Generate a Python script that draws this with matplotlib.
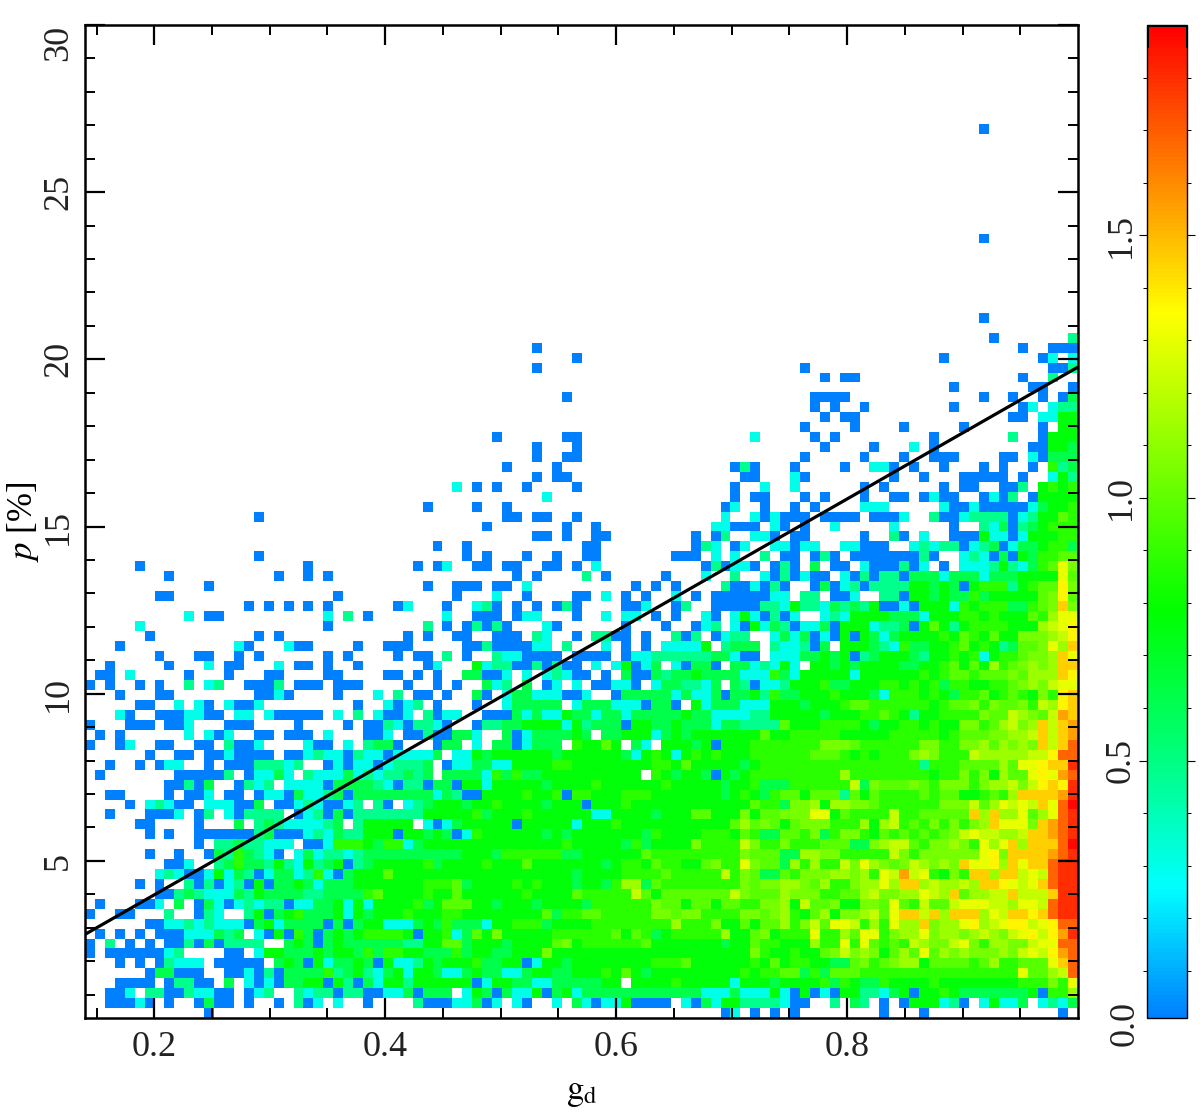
#!/usr/bin/env python3
"""2D histogram of p [%] against g_d with a fitted upper-envelope line."""
import numpy as np
import matplotlib
matplotlib.use("Agg")
import matplotlib.pyplot as plt
from matplotlib.colors import LinearSegmentedColormap

plt.rcParams["font.family"] = ["Liberation Serif", "DejaVu Serif"]
plt.rcParams["mathtext.fontset"] = "stix"

N_BINS = 100
XLIM = (0.14, 1.0)
YLIM = (0.3, 30.0)
VLIM = (0.01, 1.9)
XTICKS = [0.2, 0.4, 0.6, 0.8]
YTICKS = [5, 10, 15, 20, 25, 30]
CTICKS = [0.5, 1.0, 1.5]

LINE_X = [0.14, 1.0]
LINE_Y = [2.8, 19.77]

# log10(count) for each cell code
LEVELS = dict(zip("0123456789abcdefg",
                  [0, .3, .48, .62, .77, .88, .98, 1.05, 1.13, 1.22, 1.3, 1.37, 1.45, 1.55, 1.68, 1.8, 1.88]))

# row (from top) -> cells. "12" or "3-5" = lowest level, "3-5=4" = span at a level,
# "7:1.2" = consecutive cells from column 7, "." leaves a cell alone
SPARSE_ROWS = {
    10: "90", 21: "90", 29: "90", 31: "91 99=2", 32: "45 94 97-99", 33: "49 86 96 97=1 99=1",
    34: "45 72 97-98 99=2", 35: "74 76-77 94 97=2", 36: "87 95-96 99", 37: "48 73-76 90 93 96 98 99=3",
    38: "73 75 78 87 94 95=1 97=1 98-99=2", 39: "74 76-77 93-94 96-97=1 98-99=4",
    40: "72 77 82 88 96 98-99=4", 41: "41 48-49 67=1 73 75 85 93=2 96 97-99=4",
    42: "45 49 74 79 83=1 85 95-96 97:443", 43: "45 48-49 72 78 82 85-87 92-93 95=1 96 97-99=3",
    44: "42 47 65 66=2 67 71 76 79-80=1 81 83 86 90 92 95 97:523",
    45: "45 47-48 66-67 71=1 72 81 84 88-92 94 97=1 98:42",
    46: "37=1 39 41 44 49 65 68=1 71=1 78 80 86 88-89 92-93 94=2 96:4545",
    47: "46=1 65 67-68 72 74 78 81-82 84 85=1 86-87 90 91=1 92 93=2 95 96-99=4",
    48: "34 39 42 64 65=1 68 71 73 78-80=1 86=1 87-88 89=1 90-94 95=1 96:3445",
    49: "17 42-43 45-46 49 64=1 67=1 68 69=1 70-72 74-77 79-81 82=1 85=2 86-87 88=1 89-92=2 93 94=1 95:24465",
    50: "40 48 51 63-64=1 65-67 69=1 70 72 75=1 81=1 87 90=2 91=1 92=3 93 94=2 95=3 96:4555",
    51: "45-46 48 51-52 61 63 64=2 67-68=1 69 71-72 78 81=2 82 84=1 87-89 90=4 91-92=1 93 94=1 95-97=4 98-99=5",
    52: "35 38 50-51 61 62=2 63=1 65 66=1 69-70=1 71 72-73=1 76-77=1 78-80 83=1 84=2 85=1 86-87=2 88 89=1 90=2 91=3 92 93=1 94-95=3 96=4 97-98=5 99=3",
    53: "17 38 40 44 47 50-51 59-61 63=1 65=1 68=2 70-71 73 74=2 75 77-83 84=2 85 88=1 89=2 90=1 91 92=3 93 94=4 95=3 96:5566",
    54: "5 22 33 35 36=1 39-40 42-43 46-47 49 51=1 62 63=2 64 65-66=1 67 69 70=2 71 73=3 75-76 78=1 79-81 82=2 83 84=1 86 88-90=1 91=2 92=4 93=2 94=1 95=3 96:56a7",
    55: "8 19 22 24 43 45 50=2 52 58 62=1 65=2",
    56: "12 34 37-39 41-42 44=1 55 57 59 64=2 65",
    57: "7-8 25 37 41=1 44 49-50 52=1 54 56 59=1 61 63-65",
    58: "16 18 20 22 24 31 32=1 36 39=1 40=2 41 43 45 47 48=2 49 54-55 56=1 59 60=2 63-65",
    59: "10=1 12-13 24=1 26=2 28 36=1 39-41 43 44-45=1 49 52=1 54-55=1 57 59 62=1 63 65=1",
    60: "5=1 24 34=2 36 38 39=2 40 41=2 42 46=1 47 54 58 61 62=1 63=2 65=1",
    61: "6 17 19 32 34 37-38 41-43 45=2 46=1 49 51-52=2 53-54 56 59=2 60 61=2 63 64-65=1",
    62: "3 15=1 16 20=1 21-22 27 30-32 38-39 40=2 41-44 45-46=1 48=2 52=1 54 56 58-61=1 62=4 64=2 65=3",
    63: "7 11-12 15 17 24 26 31 33-34 36=2 38 41=2 42-43=1 44-47 49-52 54 55-56=1 57-61=2 62=2 63-64=3 65=1",
    64: "2 8 12=1 14-15 19=1 21-22 24 27 34 35=1 39=4 40=1 41-42=2 43-44 45=2 46 47=2 48-49 51=1 53=1 54=4 55 56=1 57=3 59=1 60 61-62=3 63 65=3",
    65: "1-2 4=1 10 14 18-19 24-25 30-31 33 35 38-39=3 40-41 42=1 44=1 46=1 47=2 48=1 49-50 52 54=3 55-56 57-65=3 58=2 61=4",
}

# rows 66 and below, columns 0-33
LEFT_ROWS = {
    66: "0 2 5 7 10=2 12=1 13=2 16-18 19=2 21-23 25-27 32",
    67: "3 7-8 17-18 19=1 20 25 29=1 31=2",
    68: "5-6 9=1 11=1 12 14=1 15-16 17=1 27 30=1 31 32=1",
    69: "3=1 4 7-9 10-11=1 12-13 15-16=1 18=1 19-23 25=1 27=2 29=1 30-31 32=1",
    70: "0 4-6 8-9 10=1 14-16 21 26 28-29 30=2 31=1 32",
    71: "1 3 10=1 12=1 13 14=1 17-18 20-22 24=1 28-29 30=1 32",
    72: "0 3 4=1 7-8 11-12 14=2 15-16 17=1 22=1 23-24 26=1 28=2 29-30=3 31",
    73: "6 9-10 12-13 14=1 15-18 20-21 22=1 23=2 24-25=1 26 27=2 28-29=1 30 31-33=1",
    74: "2 5 7 8-9=1 12 14-16 17-19=2 20=1 21=2 24 25=1 26 27=1 28=1 29 30=1 31-33=2",
    75: "1 9-13 14=2 16 17-18=1 19=3 20=1 22=2 23-25=1 26=3 27=1 28=2 29=1 30-31=2 32=3 33=2",
    76: "8-9 10=2 11 12=3 15 16=2 17=1 18=2 20-23=1 24 25-28=3 29=2 30=1 31 32-33=2",
    77: "2-3 8 10-11 12=1 14-15 17 18-19=1 20 21=3 22-23=1 24=2 25=3 26 27-33=3",
    78: "4 6=1 7=2 8=1 9-10 12-14=1 15-16 17=3 19-20 21=1 22=2 23=1 24-25 26=1 27=2 29=2 30 32=1 33=2",
    79: "2 6-8 9=1 11 12=2 14=1 15 16-19=2 21 22=1 23=2 24 25=3 26 27-33=2",
    80: "5-6 11 15=3 17=2 18=3 19=2 20-23=1 24=2 25=3 27=2 28-32=4",
    81: "6 8 11-13 14-16 17=2 18=3 19-21 22=1 23=2 24=1 25=3 26-27=2 28-30=4 31 32-33=4",
    82: "11 13-14=2 15=3 16-17=2 18-20=1 22-23 24=1 25-27=5 28=4 29=3 30-31=5 32=1 33=3",
    83: "6 9 12 13:3253210.131 24-25=2 26=1 27=2 28-33=3",
    84: "8-9 10=1 13:2353324214234 26 27:2344443 33=4",
    85: "7=1 8=2 9=1 10-11 12=1 13=4 14=1 15:32 17 18=1 19-20=3 21=1 22=2 23=5 24=1 25 26=3 27-29=4 30=6 31-33=4",
    86: "5 7 10=2 11 12=2 13 14=1 15=2 16 17=4 18 19-20=3 21=4 22=3 23=1 24-26=3 27-33=4",
    87: "7-8 9=2 10=3 11=2 12-14=1 15=3 16=2 17=4 18-21=3 22-23=2 24-27=3 28=5 29=6 30-33=4",
    88: "1 5-6 7=1 9=3 11 12=3 13=1 14 15=1 16=2 17=1 18-19=2 20 21-22=1 23-24=3 25=4 26=1 27=4 28=1 29-32=4 33=5",
    89: "0 3-4 8=2 11 12=2 13=1 16=2 17=4 18 19=3 20=4 21=5 22-24=3 25=4 26=1 27=4 28=3 29-31=4 32=5 33=4",
    90: "6-7 8-9=1 10=2 11=1 12=2 13-15=1 16 17=3 18=4 19=1 20-23=3 24 25=3 26 27=3 28-29=4 30-32=1 33=3",
    91: "1 3 5 7-9 10-12=1 13=3 14=2 15=3 17=1 18 19=4 20 21=5 22=3 23 24=3 25=4 26=3 27=4 28-31=5 32=4 33",
    92: "0 2=2 4 6 8-9 10=2 11 12=3 13 14-17=2 20=3 21=4 22=3 23 24=3 25=4 26-31=3 32-33=2",
    93: "0 2-7 8=1 9=2 14-15 17=1 18-19=4 20-22=3 23=4 24=3 25-26=4 27=3 28=5 29=3 30-31=5 32-33=4",
    94: "3 5 7 8=2 9-11=1 13-17 19=3 20=4 21=3 22 23=4 24=1 25-26=3 27=4 28=3 29 30=4 31-32=1 33=2",
    95: "6 7-8=3 9-11 14-15 16=1 17 18=2 19 20-23=3 24=5 25=2 26=3 27=4 28=2 29=1 30=3 31=4 32=1 33=4",
    96: "3-6 8 9-10=2 11-12 14=3 16=1 17 18=1 19 20-21=3 22-23=4 24 25=4 26=2 27 28=3 29=1 30-31=4 32=2 33=4",
    97: "2-3 4=1 6-7=2 8-9 10=2 11-12=1 13-14 16 17=1 18=2 21=2 22=1 23-24=2 25 26-27=2 28-29 30-31=1 32=3 33",
    98: "2-4 5=1 6 8 11 12=3 13-14 16 19 21=2 22 23=1 25=1 28 33=2",
    99: "12 64 65=1 67 69 71 80 84 98",
}

# rows 66 and below, columns 33-66
CENTER_ROWS = {
    66: "35 37 40=3 41=1 42=2 44=3 46 47=1 49=1 51-52 53-54=1 55 57=1 58-59=3 60-61=2 62=1 63=3 65=3",
    67: "33-34 36 39=3 40 42=1 43-44=3 45-47=1 48-49 50=1 53 54-58=3 59=1 60=3 61-62=1 63=3 64 65=3",
    68: "33=2 35 39 42=1 43-47=3 49=1 50-52=3 53-55=1 56 57-58=3 59 61=4 62=1 63-65=3",
    69: "34=2 35 36-37=1 40-42 43=3 44=1 45=3 46-47=1 48=4 49-50=3 51=1 52-53=3 54=1 55-59=3 60=4 61-62=3 63-65=1",
    70: "33-34=2 35=1 36 39 40-41=2 42-43=3 44-47=4 48=1 49=4 50=2 51-53=3 54 55-56=4 57-58=3 59=4 60-62=3 63=1 64-65=3",
    71: "33 34=2 35-36 37-38=3 39=1 42=3 43 44=1 45-47=3 48=3 49=4 50=3 52-53=3 54-56=4 57=1 58=3 59=4 60=3 61-65=4",
    72: "35 36-37=3 39=1 41-42=3 43 44=1 45-47=3 49=5 50-51=4 52=6 53=4 55=3 56=1 58-60=4 61=3 62=4 63 64-65=4",
    73: "33-34=1 35=3 37-38=1 39=4 40=3 41-46=4 47=3 48-53=4 54=3 55=1 56=4 57=5 58=4 59=1 60=4 61=5 62=4 63=5 64-65=4",
    74: "33-34=3 36 37-38=1 39-40=3 41-42=1 43-46=4 47-48=5 49-56=4 57-58=5 59=4 60=6 61-65=4",
    75: "33=1 34=3 36=3 37-38=3 39=3 40=1 41=5 42=3 43=5 44-45=3 46-54=4 55=4 57=5 58=4 59=3 60-61=4 62=3 63 64=4 65=3",
    76: "33=3 34 35-36=3 37 38-39=4 40=1 41-45=4 46=3 47-50=4 51=5 52-57=4 58=5 59-65=4 64=3",
    77: "33-34=3 35=1 36=3 37=2 38-39 40-43=4 44=5 45-46=4 47=5 48 49-50=5 51-53=4 54-56=5 57-63=4 64=3 65=4",
    78: "34=3 35-37=4 38=3 39-40=4 41=5 42-45=4 46=3 47-49=4 50 51-53=4 54=5 55-65=4",
    79: "33=1 34-38=4 39=5 40=3 41-43=4 44=5 45-50=4 51-52=1 53-56=4 57=3 58-60=4 61-62=6 63-65=4",
    80: "34=1 35 36=1 37=3 38-42=4 43 44-48=4 49=1 50-52=4 53=5 54-64=4 65=6",
    81: "33-34=3 35=4 36=3 37 38=1 39=5 40-45=4 46=3 47=4 48=3 49-55=4 56=3 57=5 58-61=4 62-64=5 65=4",
    82: "33-47=4 48=5 49-53=4 54=3 55=5 56=3 57-60=4 61=7 62-65=5",
    83: "33=4 34=3 35-37=3 38-40=4 41=3 42-47=5 48-49=3 50-55=4 56=6 57-65=5",
    84: "33=3 34=5 35=3 36-39=4 40=5 41-43=4 44=6 45-51=4 52=3 53=4 54-55=5 56=4 57=6 58-59=5 60-61=4 62=6 63=7 64-65=5",
    85: "33=3 34-48=4 49=3 50-53=4 54=5 55-63=5 58=6 64=9 65=5",
    86: "33=4 34-36=5 37=6 38=3 39-42=4 43=5 44=4 45=5 46-48=4 49=3 50-51=4 52=3 53=5 54-55=8 56=3 57=6 58=5 59-61=5 62-65=5",
    87: "33=4 34=5 35-36=4 37=6 38-43=4 44=5 45-48=4 49=6 50-54=5 55=9 56=6 57=4 58-64=6 65=9",
    88: "33=6 34=3 35=4 36-38=6 39-40=4 41=3 42-44=4 45=3 46-49=4 50=3 51-56=5 57=7 58-59=6 60=4 61-62=6 63=4 64-65=6",
    89: "33-35=4 36-37=5 38-45=4 46=6 47=3 48-49=5 50-51=6 52-56=5 57-58=7 59=6 60-61=7 62-65=5",
    90: "33-34=4 35=3 36=5 37-39=3 40=1 41-42=4 43-45=5 46=3 47-50=4 51-58=5 59=8 60-62=5 63=7 64-65=4",
    91: "33 34-35=4 36=5 37=1 38=3 39=6 40=4 41=7 42-46=4 47-52=5 53=6 54=4 55=6 56=5 57=3 58=4 59-63=5 64=8 65=4",
    92: "33=3 34-35=4 36-37=6 38=3 39-41=4 42=3 43-46=4 47=6 48=7 49=4 50-55=5 56=6 57-63=4 64=3 65=4",
    93: "33=4 34-36=3 37=5 38=3 39-40=4 41-42=3 43-45=4 46=7 47-65=4",
    94: "33=3 34=4 35=3 36-38=4 39=5 40-41=3 42-43=4 44 45=1 46-47=4 48=3 49-56=4 57-59=5 60=6 61-65=4",
    95: "33=1 34=4 35=3 36-37=1 38=3 39=4 40-41=3 42-43=1 44=3 45-46=4 47-48=3 49-51=4 52=5 53=4 54=6 55=4 56=3 57-65=4",
    96: "33-38=4 39 40=1 41-42=4 43-44=3 45-46=1 47-50=3 51=3 52-53=4 54=. 55-58=4 59=5 60-64=4 65=1",
    97: "33 34-35=3 36=3 38=1 39=4 40=3 41 42=3 43-44=1 45=4 46 47=3 48=4 49=1 50-61=3 62-64=1 65=3",
    98: "33=3 34-36 37-38=1 39=3 40 41=1 43=1 44 47=1 49=3 50=1 51 52-53=1 54=4 55-58 60=1 61 62=3 63=1 64-65=4",
}

# columns 66-99, groups of ten for reading; "." = empty cell
RIGHT_ROWS = {
    55: "..10201 00.1020220 3331333133 34444a6",
    56: "01020..030 1202222443 4304555245 66b7",
    57: "00011.22.0 01..220443 4335344444 67b6",
    58: "0022142 213 2324001 0444154555 33567c7",
    59: "410201..12 1444433314 4455454446 58aa",
    60: "0413201130 4441223046 4245555444 89ab",
    61: "22..131301 0404313444 4546546447 7789b",
    62: "33.211203. 4443215334 4564542366 7a8c",
    63: "00.1113343 4023444324 4545145567 78ca",
    64: "312141.443 4344443344 5646485678 78cc",
    65: "1115314444 4144444454 5665666768 88cb",
    66: "2011244453 3444554545 3554455678 79aa",
    67: "3425334445 4443155545 4355645654 75bc",
    68: "1114443444 5665555554 5667576675 98bc",
    69: "1224444434 4455654244 5555766987 69dc",
    70: "2222644455 5543445545 4477568978 c9cd",
    71: "4464455555 4444455555 4566677889 c9cd",
    72: "4555555577 7655555577 5577868787 c9ce",
    73: "4555555666 5454555787 5559888889 9bee",
    74: "3455555555 5555555525 5566668 6aa bccf",
    75: "4555555555 8555555554 5575748 66a bade",
    76: "4533355555 5937666765 7775788979 bcbf",
    77: "5435664666 2646555565 6644565 8cc ccdf",
    78: "4655377848 8776555555 777968a9a9 caeg",
    79: "7466777aa4 6555595566 666c8c88a6 8aef",
    80: "8676467775 5584895657 57578caaa7 cdef",
    81: "6533665735 7754656565 679a99889c cdef",
    82: "9755755566 6337899657 7875a8ac8c cceg",
    83: "7666338877 5555597577 7777ab7ccc cdef",
    84: "a766385855 97a8767987 87caab8cac ceff",
    85: "7633657778 8785a9d9a5 475cc8cc9a 9eff",
    86: "7677887685 5788a8cc89 8898ccba9a ceff",
    87: "7666877755 6689778 8a9 8c68899c99 9cff",
    88: "5577849667 44776a6596 69aaa998aa 9eff",
    89: "7767854684 77896acc9c 8ccc8a9ccb ceff",
    90: "6466857 96a a9585a88c7 88ab89abb9 abee",
    91: "4674555a55 86aa5788a7 88789879ab 9bdf",
    92: "4655444855 a5a6565987 79a7588779 aaee",
    93: "4754454467 97874686a6 8787778 79a 9bde",
    94: "4546455443 3675678846 6665685566 6ace",
    95: "5455663536 6655555555 55555555a6 689e",
    96: "4443444453 5433544445 4444444455 575a",
    97: "1114104010 4422134044 5433333334 0558",
    98: "2222100..2 .32.0.0444 120.14113. 1213",
}


def fill(grid, row, spec):
    for tok in spec.split():
        if ":" in tok:
            start, chars = tok.split(":")
            for i, ch in enumerate(chars):
                if ch != "." and int(start) + i < N_BINS:
                    grid[row, int(start) + i] = LEVELS[ch]
            continue
        cols, _, code = tok.partition("=")
        lo, _, hi = cols.partition("-")
        hi = hi or lo
        if code == ".":
            grid[row, int(lo):int(hi) + 1] = np.nan
        else:
            grid[row, int(lo):int(hi) + 1] = LEVELS[code or "0"]


def build_grid():
    grid = np.full((N_BINS, N_BINS), np.nan)
    for rows in (SPARSE_ROWS, CENTER_ROWS, LEFT_ROWS):
        for r, spec in rows.items():
            fill(grid, r, spec)
    for r, chars in RIGHT_ROWS.items():
        chars = chars.replace(" ", "")
        for i, ch in enumerate(reversed(chars)):
            col = N_BINS - 1 - i
            grid[r, col] = np.nan if ch == "." else LEVELS[ch]
    return grid


def main():
    cmap = LinearSegmentedColormap.from_list("idl", [
        (0.0, "#0080ff"), (0.13, "#00ffff"), (0.26, "#00ff80"), (0.41, "#00ff00"),
        (0.71, "#ffff00"), (1.0, "#ff0000")], N=256)

    fig = plt.figure(figsize=(12, 11.12), dpi=100)
    W, H = 1200.0, 1112.0
    ax = fig.add_axes([85 / W, 1 - 1018 / H, 993 / W, 993 / H])
    cax = fig.add_axes([1147 / W, 1 - 1018 / H, 40 / W, 993 / H])

    xedges = np.linspace(XLIM[0], XLIM[1], N_BINS + 1)
    yedges = np.linspace(YLIM[1], YLIM[0], N_BINS + 1)
    mesh = ax.pcolormesh(xedges, yedges, build_grid(), cmap=cmap,
                         vmin=VLIM[0], vmax=VLIM[1], linewidth=0, rasterized=True)
    ax.plot(LINE_X, LINE_Y, color="black", lw=2.3, solid_capstyle="butt")
    ax.set_xlim(XLIM)
    ax.set_ylim(YLIM)

    ax.set_xticks(XTICKS)
    ax.set_xticklabels([f"{v:.1f}" for v in XTICKS])
    ax.set_xticks(np.arange(0.15, 1.0, 0.05), minor=True)
    ax.set_yticks(YTICKS)
    ax.set_yticks(np.arange(1, 30), minor=True)
    ax.tick_params(which="major", direction="in", length=14.5, width=1.6,
                   top=True, right=True, labelsize=26, labelcolor="#222222", pad=9)
    ax.tick_params(axis="y", which="major", pad=7)
    ax.tick_params(which="minor", direction="in", length=7.5, width=1.4, top=True, right=True)
    for lab in ax.get_yticklabels():
        lab.set_rotation(90)
        lab.set_va("center")
    ax.get_yticklabels()[-1].set_va("top")
    for s in ax.spines.values():
        s.set_linewidth(1.8)
    ax.set_xlabel(r"$\mathrm{g}_{\mathrm{d}}$", fontsize=25, labelpad=9)
    ax.set_ylabel(r"$p$ [%]", fontsize=25, labelpad=1)

    cb = fig.colorbar(mesh, cax=cax)
    cb.solids.set_rasterized(True)
    cb.outline.set_linewidth(1.0)
    cax.set_yticks(CTICKS)
    cax.set_yticklabels([f"{v:.1f}" for v in CTICKS], rotation=90, va="center")
    cax.set_yticks(np.arange(0.1, 1.9, 0.1), minor=True)
    cax.tick_params(which="major", direction="out", length=5.5, width=0.8,
                    left=True, right=True, labelleft=True, labelright=False,
                    labelsize=26, labelcolor="#222222", pad=1)
    cax.tick_params(which="minor", direction="out", length=3, width=0.7, left=True, right=True)
    cax.text(-0.55, 0.0, "0.0", rotation=90, fontsize=26, color="#222222", ha="center", va="center",
             transform=cax.get_yaxis_transform(), clip_on=False)
    # heavy ends at the top of the bar
    trans = cax.get_yaxis_transform()
    cax.plot([0, 0], [1.86, 1.9], color="black", lw=2.2, transform=trans)
    cax.plot([1, 1], [1.86, 1.9], color="black", lw=2.2, transform=trans)
    cax.plot([0, 1], [1.9, 1.9], color="black", lw=2.2, transform=trans)
    cax.set_ylim(VLIM)

    fig.savefig("out.png", dpi=100)


if __name__ == "__main__":
    main()
